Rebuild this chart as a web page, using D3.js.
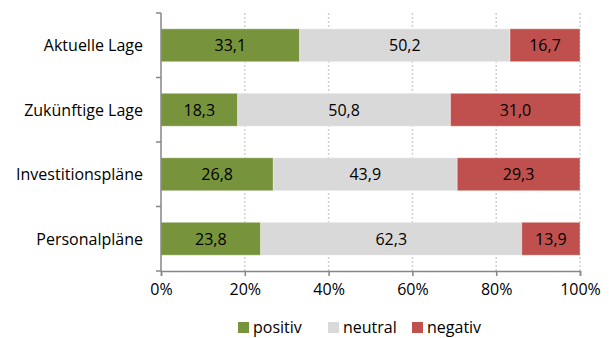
<!DOCTYPE html>
<html>
<head>
<meta charset="utf-8">
<script src="https://cdn.jsdelivr.net/npm/d3@7"></script>
<style>
  body { margin: 0; background: #fff; }
  svg text { font-family: "Open Sans", Lato, "Liberation Sans", sans-serif; fill: #000; }
</style>
</head>
<body>
<svg id="chart" width="610" height="338"></svg>
<script>
const categories = ["Aktuelle Lage", "Zukünftige Lage", "Investitionspläne", "Personalpläne"];
const seriesNames = ["positiv", "neutral", "negativ"];
const positiv = [33.1, 18.3, 26.8, 23.8];
const neutral = [50.2, 50.8, 43.9, 62.3];
const negativ = [16.7, 31.0, 29.3, 13.9];
const xTicks = [0, 20, 40, 60, 80, 100];
const colors = ["#77933C", "#D9D9D9", "#C0504D"];

const FS = 16;
const svg = d3.select("#chart");
const margin = { left: 161, right: 30, top: 13, bottom: 67 };
const W = 610, H = 338;

const x = d3.scaleLinear().domain([0, 100]).range([margin.left, W - margin.right]);
const y = d3.scaleBand().domain(categories).range([margin.top, H - margin.bottom]).paddingInner(0.49).paddingOuter(0.245);

// dotted vertical gridlines
svg.append("g").selectAll("line").data(xTicks.slice(1)).join("line")
  .attr("x1", d => x(d)).attr("x2", d => x(d))
  .attr("y1", margin.top).attr("y2", H - margin.bottom)
  .attr("stroke", "#D0D0D0").attr("stroke-width", 1.5).attr("stroke-dasharray", "2,2");

const rows = categories.map((c, i) => ({ cat: c, positiv: positiv[i], neutral: neutral[i], negativ: negativ[i] }));
const stacked = d3.stack().keys(seriesNames)(rows);

const fmt = v => v.toFixed(1).replace(".", ",");

const layers = svg.append("g").selectAll("g").data(stacked).join("g")
  .attr("fill", (d, i) => colors[i]);

layers.selectAll("rect").data(d => d).join("rect")
  .attr("x", d => x(d[0]))
  .attr("y", d => y(d.data.cat))
  .attr("width", d => x(d[1]) - x(d[0]))
  .attr("height", y.bandwidth())
  .attr("stroke", "rgba(255,255,255,0.35)")
  .attr("stroke-width", 1);

layers.selectAll("text").data(d => d.map(p => Object.assign(p, { key: d.key }))).join("text")
  .attr("x", d => (x(d[0]) + x(d[1])) / 2)
  .attr("y", d => y(d.data.cat) + y.bandwidth() / 2)
  .attr("dy", "0.36em")
  .attr("text-anchor", "middle")
  .attr("font-size", FS)
  .text(d => fmt(d.data[d.key]));

// x axis
const xAxis = svg.append("g")
  .attr("transform", `translate(0,${H - margin.bottom})`)
  .call(d3.axisBottom(x).tickValues(xTicks).tickFormat(d => d + "%").tickSize(5).tickPadding(8));
xAxis.select(".domain").attr("stroke", "#868686").attr("stroke-width", 1.5);
xAxis.selectAll(".tick line").attr("stroke", "#868686").attr("stroke-width", 1.5);
xAxis.selectAll("text").attr("font-size", FS).attr("font-family", "'Open Sans', Lato, sans-serif");

// y axis: category boundaries carry the tick marks
const step = y.step();
const bounds = d3.range(categories.length + 1).map(i => margin.top + i * step);
const yAxisG = svg.append("g");
yAxisG.append("line")
  .attr("x1", margin.left).attr("x2", margin.left)
  .attr("y1", margin.top).attr("y2", H - margin.bottom)
  .attr("stroke", "#868686").attr("stroke-width", 1.5);
yAxisG.selectAll("line.tk").data(bounds).join("line").attr("class", "tk")
  .attr("x1", margin.left - 5).attr("x2", margin.left)
  .attr("y1", d => d).attr("y2", d => d)
  .attr("stroke", "#868686").attr("stroke-width", 1.5);
yAxisG.selectAll("text").data(categories).join("text")
  .attr("x", margin.left - 18)
  .attr("y", d => y(d) + y.bandwidth() / 2)
  .attr("dy", "0.36em")
  .attr("text-anchor", "end")
  .attr("font-size", FS)
  .text(d => d);

// legend
const legendX = [238, 328, 412];
const legend = svg.append("g").selectAll("g").data(seriesNames).join("g")
  .attr("transform", (d, i) => `translate(${legendX[i]},322)`);
legend.append("rect").attr("width", 11).attr("height", 11).attr("fill", (d, i) => colors[i]);
legend.append("text").attr("x", 15).attr("y", 5.5).attr("dy", "0.36em").attr("font-size", FS).text(d => d);
</script>
</body>
</html>
